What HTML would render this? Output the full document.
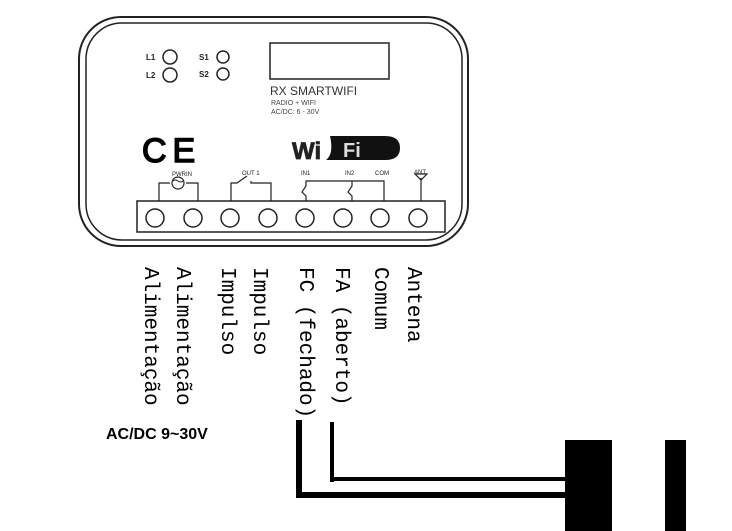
<!DOCTYPE html>
<html><head><style>
body{margin:0;width:732px;height:531px;background:#fff;position:relative;overflow:hidden;font-family:"Liberation Sans",sans-serif}
.v{position:absolute;top:267px;writing-mode:vertical-rl;font-family:"Liberation Mono",monospace;font-size:21px;line-height:21px;color:#000;white-space:nowrap}
</style></head><body>
<svg width="732" height="531" style="position:absolute;left:0;top:0">
<g fill="none" stroke="#222">
<rect x="79" y="17" width="389" height="229" rx="42" stroke-width="2"/>
<rect x="86" y="23" width="376" height="217" rx="36" stroke-width="1.5"/>
<rect x="270" y="43" width="119" height="36" stroke-width="1.5"/>
<circle cx="170" cy="57" r="7" stroke-width="1.5"/>
<circle cx="170" cy="75" r="7" stroke-width="1.5"/>
<circle cx="223" cy="57" r="6" stroke-width="1.5"/>
<circle cx="223" cy="74" r="6" stroke-width="1.5"/>
<rect x="137" y="201" width="308" height="31" stroke-width="1.5"/>
<g stroke-width="1.5">
<circle cx="155" cy="218" r="9"/><circle cx="193" cy="218" r="9"/><circle cx="230" cy="218" r="9"/><circle cx="268" cy="218" r="9"/>
<circle cx="305" cy="218" r="9"/><circle cx="343" cy="218" r="9"/><circle cx="380" cy="218" r="9"/><circle cx="418" cy="218" r="9"/>
</g>
<g stroke-width="1.2">
<path d="M159 201V183H170M186 183H198V201"/><circle cx="178" cy="183" r="6"/>
<path d="M231 201V183H237L247 176M251 181V183H271V201" />
<path d="M306 201V196L302 192L306 186V181H352M352 181V186L348 192L352 196V201M352 181H384V201"/>
<path d="M421 201V178M415 174L421 180L427 174Z"/>
</g>
</g>
<path d="M173 181q2-2 5 0t5 0" stroke="#222" fill="none"/>
<text x="172" y="176" font-size="6" fill="#222">PWRIN</text>
<text x="242" y="175" font-size="6" fill="#222">OUT 1</text>
<text x="301" y="175" font-size="6" fill="#222">IN1</text>
<text x="345" y="175" font-size="6" fill="#222">IN2</text>
<text x="375" y="175" font-size="6" fill="#222">COM</text>
<text x="414" y="174" font-size="6" fill="#222">ANT</text>
<text x="146" y="60" font-size="8" font-weight="bold" fill="#222">L1</text>
<text x="146" y="78" font-size="8" font-weight="bold" fill="#222">L2</text>
<text x="199" y="60" font-size="8" font-weight="bold" fill="#222">S1</text>
<text x="199" y="77" font-size="8" font-weight="bold" fill="#222">S2</text>
<text x="270" y="95" font-size="12" fill="#333">RX SMARTWIFI</text>
<text x="271" y="105" font-size="7" fill="#444">RADIO + WIFI</text>
<text x="271" y="114" font-size="7" fill="#444">AC/DC: 6 - 30V</text>
<text x="142" y="162" font-size="34" fill="#000" stroke="#000" stroke-width="1.5" letter-spacing="6">CE</text>
<text x="292" y="159" font-size="24" font-weight="bold" fill="#222" stroke="#222" stroke-width="0.8">Wi</text>
<path d="M330 136H385Q400 136 400 148Q400 160 385 160H326Q334 154 330 136Z" fill="#111"/>
<text x="343" y="157" font-size="20" font-weight="bold" fill="#ddd">Fi</text>
<g fill="#000">
<rect x="296" y="420" width="6" height="78"/>
<rect x="296" y="492" width="270" height="6"/>
<rect x="330" y="422" width="4" height="60"/>
<rect x="330" y="477" width="236" height="4"/>
<rect x="565" y="440" width="47" height="91"/>
<rect x="665" y="440" width="21" height="91"/>
</g>
</svg>
<div class="v" style="left:139px">Alimentação</div>
<div class="v" style="left:171px">Alimentação</div>
<div class="v" style="left:216px">Impulso</div>
<div class="v" style="left:248px">Impulso</div>
<div class="v" style="left:294px">FC (fechado)</div>
<div class="v" style="left:330px">FA (aberto)</div>
<div class="v" style="left:369px">Comum</div>
<div class="v" style="left:402px">Antena</div>
<div style="position:absolute;left:106px;top:426px;font-size:16px;font-weight:bold">AC/DC 9~30V</div>
</body></html>
